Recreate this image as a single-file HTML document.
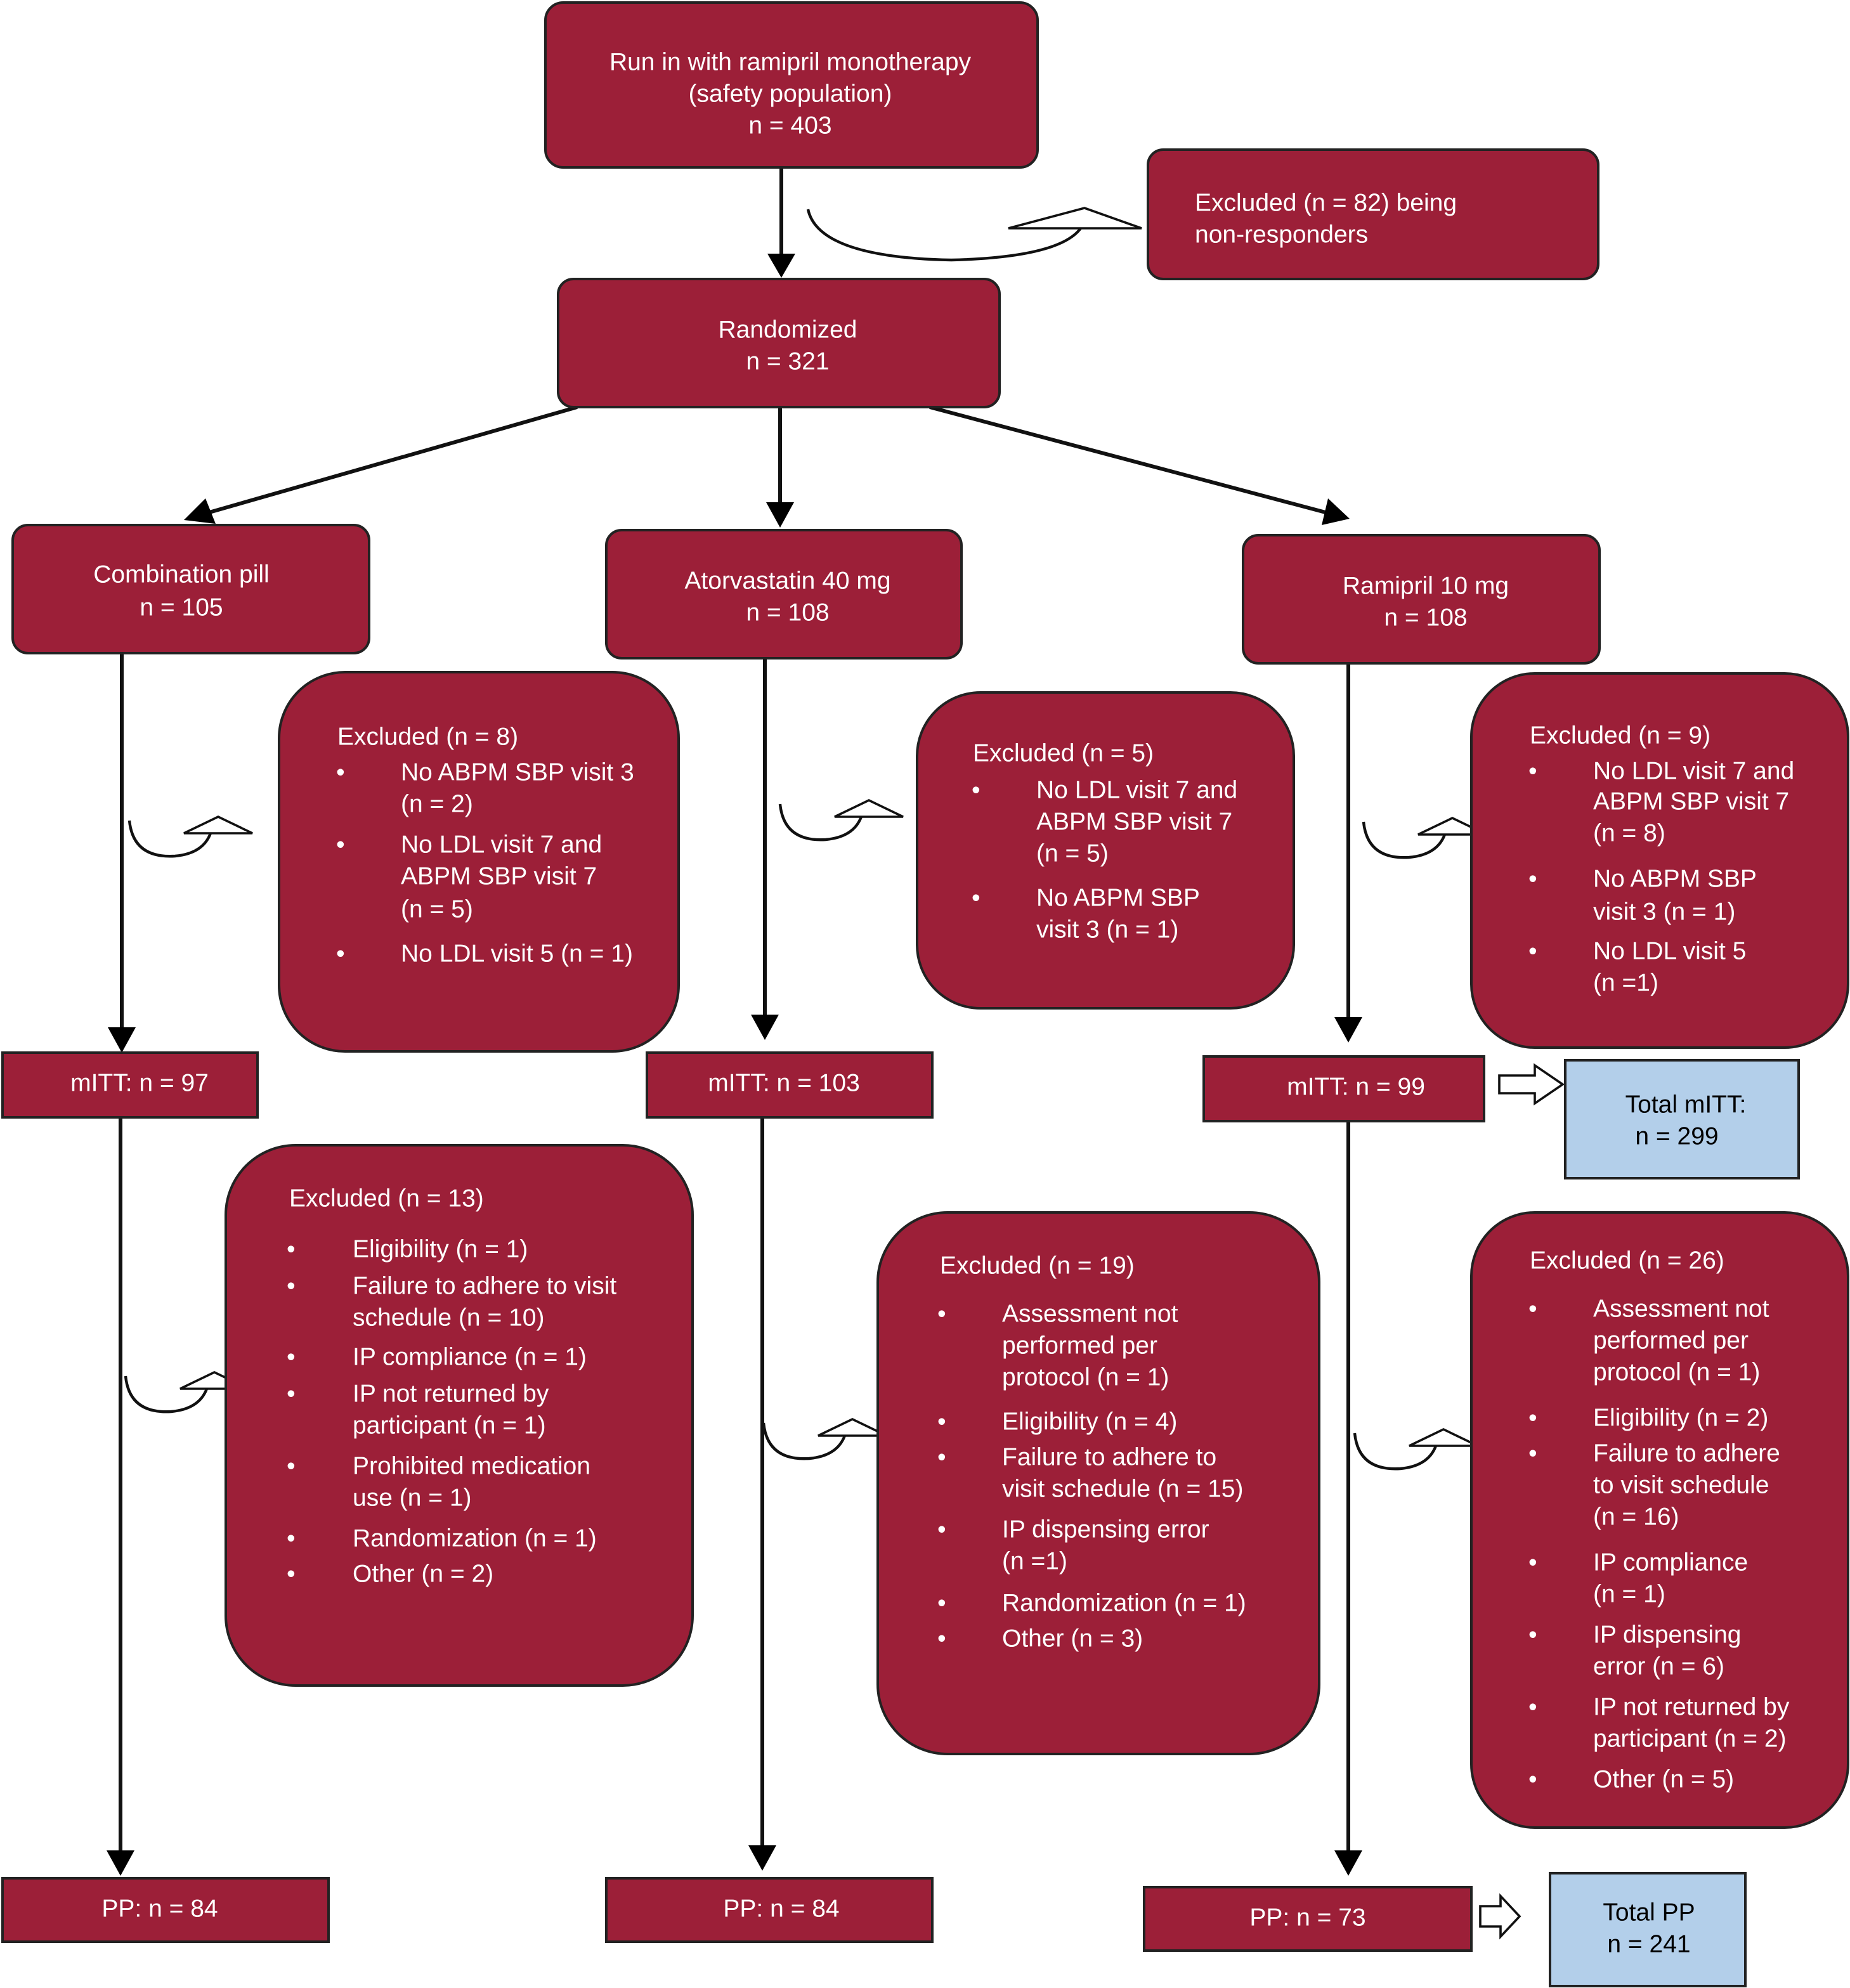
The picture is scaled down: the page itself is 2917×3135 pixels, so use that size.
<!DOCTYPE html>
<html><head><meta charset="utf-8"><style>
html,body{margin:0;padding:0;background:#fff}
svg{display:block}
text{font-family:"Liberation Sans",Arial,sans-serif;font-size:19.5px;fill:#fff;dominant-baseline:middle}
.c{text-anchor:middle}
.k{fill:#000}
.b{fill:#9c1f38;stroke:#222;stroke-width:2}
.bl{fill:#b3cfea;stroke:#222;stroke-width:2}
.ln{stroke:#111;stroke-width:3;fill:none}
.cu{stroke:#111;stroke-width:2.2;fill:none}
.tr{fill:#fff;stroke:#111;stroke-width:1.8}
</style></head><body>
<svg width="2917" height="3135" viewBox="0 0 1458.5 1567.5" xmlns="http://www.w3.org/2000/svg">
<defs>
<marker id="ah" markerWidth="8" markerHeight="8" refX="7" refY="4" orient="auto" markerUnits="userSpaceOnUse" viewBox="0 0 8 8">
</marker>
<g id="curl"><path class="cu" d="M0,0 Q3,30 36,28 Q58,26 64,10"/><polygon class="tr" points="43,10 70,-3 97,10"/></g>
</defs>

<!-- connectors -->
<line class="ln" x1="616" y1="132" x2="616" y2="202"/><polygon points="605,200 627,200 616,219"/>
<path class="cu" d="M637,165 Q645,203 750,205 Q835,203 852,180"/><polygon class="tr" points="795,180 855,164 900,180"/>

<line class="ln" x1="455" y1="321" x2="165" y2="404"/><polygon points="145,410 162,393 170,413"/>
<line class="ln" x1="615" y1="321" x2="615" y2="398"/><polygon points="604,396 626,396 615,416"/>
<line class="ln" x1="733" y1="321" x2="1045" y2="404"/><polygon points="1064,409 1042,414 1047,393"/>

<line class="ln" x1="96" y1="515" x2="96" y2="812"/><polygon points="85,810 107,810 96,830"/>
<line class="ln" x1="603" y1="520" x2="603" y2="802"/><polygon points="592,800 614,800 603,820"/>
<line class="ln" x1="1063" y1="523" x2="1063" y2="804"/><polygon points="1052,802 1074,802 1063,822"/>
<line class="ln" x1="95" y1="881" x2="95" y2="1461"/><polygon points="84,1459 106,1459 95,1479"/>
<line class="ln" x1="601" y1="881" x2="601" y2="1457"/><polygon points="590,1455 612,1455 601,1475"/>
<line class="ln" x1="1063" y1="884" x2="1063" y2="1461"/><polygon points="1052,1459 1074,1459 1063,1479"/>

<use href="#curl" transform="translate(102,647)"/>
<use href="#curl" transform="translate(615,634)"/>
<use href="#curl" transform="translate(1075,648)"/>
<use href="#curl" transform="translate(99,1085)"/>
<use href="#curl" transform="translate(602,1122)"/>
<use href="#curl" transform="translate(1068,1130)"/>

<!-- block arrows -->
<polygon class="tr" points="1182,848 1210,848 1210,840 1232,855 1210,870 1210,862 1182,862"/>
<polygon class="tr" points="1167,1503 1183,1503 1183,1495 1198,1511 1183,1527 1183,1519 1167,1519"/>

<!-- boxes -->
<rect class="b" x="430" y="2" width="388" height="130" rx="14"/>
<text class="c" x="623" y="50">Run in with ramipril monotherapy</text>
<text class="c" x="623" y="75">(safety population)</text>
<text class="c" x="623" y="100">n = 403</text>

<rect class="b" x="905" y="118" width="355" height="102" rx="12"/>
<text x="942" y="161">Excluded (n = 82) being</text>
<text x="942" y="186">non-responders</text>

<rect class="b" x="440" y="220" width="348" height="101" rx="12"/>
<text class="c" x="621" y="261">Randomized</text>
<text class="c" x="621" y="286">n = 321</text>

<rect class="b" x="10" y="414" width="281" height="101" rx="12"/>
<text class="c" x="143" y="454">Combination pill</text>
<text class="c" x="143" y="480">n = 105</text>

<rect class="b" x="478" y="418" width="280" height="101" rx="12"/>
<text class="c" x="621" y="459">Atorvastatin 40 mg</text>
<text class="c" x="621" y="484">n = 108</text>

<rect class="b" x="980" y="422" width="281" height="101" rx="12"/>
<text class="c" x="1124" y="463">Ramipril 10 mg</text>
<text class="c" x="1124" y="488">n = 108</text>

<rect class="b" x="220" y="530" width="315" height="299" rx="52"/>
<text x="266" y="582">Excluded (n = 8)</text>
<text x="265" y="610">•</text><text x="316" y="610">No ABPM SBP visit 3</text>
<text x="316" y="635">(n = 2)</text>
<text x="265" y="667">•</text><text x="316" y="667">No LDL visit 7 and</text>
<text x="316" y="692">ABPM SBP visit 7</text>
<text x="316" y="718">(n = 5)</text>
<text x="265" y="753">•</text><text x="316" y="753">No LDL visit 5 (n = 1)</text>

<rect class="b" x="723" y="546" width="297" height="249" rx="50"/>
<text x="767" y="595">Excluded (n = 5)</text>
<text x="766" y="624">•</text><text x="817" y="624">No LDL visit 7 and</text>
<text x="817" y="649">ABPM SBP visit 7</text>
<text x="817" y="674">(n = 5)</text>
<text x="766" y="709">•</text><text x="817" y="709">No ABPM SBP</text>
<text x="817" y="734">visit 3 (n = 1)</text>

<rect class="b" x="1160" y="531" width="297" height="295" rx="50"/>
<text x="1206" y="581">Excluded (n = 9)</text>
<text x="1205" y="609">•</text><text x="1256" y="609">No LDL visit 7 and</text>
<text x="1256" y="633">ABPM SBP visit 7</text>
<text x="1256" y="658">(n = 8)</text>
<text x="1205" y="694">•</text><text x="1256" y="694">No ABPM SBP</text>
<text x="1256" y="720">visit 3 (n = 1)</text>
<text x="1205" y="751">•</text><text x="1256" y="751">No LDL visit 5</text>
<text x="1256" y="776">(n =1)</text>

<rect class="b" x="2" y="830" width="201" height="51"/>
<text class="c" x="110" y="855">mITT: n = 97</text>
<rect class="b" x="510" y="830" width="225" height="51"/>
<text class="c" x="618" y="855">mITT: n = 103</text>
<rect class="b" x="949" y="833" width="221" height="51"/>
<text class="c" x="1069" y="858">mITT: n = 99</text>
<rect class="bl" x="1234" y="836" width="184" height="93"/>
<text class="c k" x="1329" y="872">Total mITT:</text>
<text class="c k" x="1322" y="897">n = 299</text>

<rect class="b" x="178" y="903" width="368" height="426" rx="55"/>
<text x="228" y="946">Excluded (n = 13)</text>
<text x="226" y="986">•</text><text x="278" y="986">Eligibility (n = 1)</text>
<text x="226" y="1015">•</text><text x="278" y="1015">Failure to adhere to visit</text>
<text x="278" y="1040">schedule (n = 10)</text>
<text x="226" y="1071">•</text><text x="278" y="1071">IP compliance (n = 1)</text>
<text x="226" y="1100">•</text><text x="278" y="1100">IP not returned by</text>
<text x="278" y="1125">participant (n = 1)</text>
<text x="226" y="1157">•</text><text x="278" y="1157">Prohibited medication</text>
<text x="278" y="1182">use (n = 1)</text>
<text x="226" y="1214">•</text><text x="278" y="1214">Randomization (n = 1)</text>
<text x="226" y="1242">•</text><text x="278" y="1242">Other (n = 2)</text>

<rect class="b" x="692" y="956" width="348" height="427" rx="55"/>
<text x="741" y="999">Excluded (n = 19)</text>
<text x="739" y="1037">•</text><text x="790" y="1037">Assessment not</text>
<text x="790" y="1062">performed per</text>
<text x="790" y="1087">protocol (n = 1)</text>
<text x="739" y="1122">•</text><text x="790" y="1122">Eligibility (n = 4)</text>
<text x="739" y="1150">•</text><text x="790" y="1150">Failure to adhere to</text>
<text x="790" y="1175">visit schedule (n = 15)</text>
<text x="739" y="1207">•</text><text x="790" y="1207">IP dispensing error</text>
<text x="790" y="1232">(n =1)</text>
<text x="739" y="1265">•</text><text x="790" y="1265">Randomization (n = 1)</text>
<text x="739" y="1293">•</text><text x="790" y="1293">Other (n = 3)</text>

<rect class="b" x="1160" y="956" width="297" height="485" rx="50"/>
<text x="1206" y="995">Excluded (n = 26)</text>
<text x="1205" y="1033">•</text><text x="1256" y="1033">Assessment not</text>
<text x="1256" y="1058">performed per</text>
<text x="1256" y="1083">protocol (n = 1)</text>
<text x="1205" y="1119">•</text><text x="1256" y="1119">Eligibility (n = 2)</text>
<text x="1205" y="1147">•</text><text x="1256" y="1147">Failure to adhere</text>
<text x="1256" y="1172">to visit schedule</text>
<text x="1256" y="1197">(n = 16)</text>
<text x="1205" y="1233">•</text><text x="1256" y="1233">IP compliance</text>
<text x="1256" y="1258">(n = 1)</text>
<text x="1205" y="1290">•</text><text x="1256" y="1290">IP dispensing</text>
<text x="1256" y="1315">error (n = 6)</text>
<text x="1205" y="1347">•</text><text x="1256" y="1347">IP not returned by</text>
<text x="1256" y="1372">participant (n = 2)</text>
<text x="1205" y="1404">•</text><text x="1256" y="1404">Other (n = 5)</text>

<rect class="b" x="2" y="1481" width="257" height="50"/>
<text class="c" x="126" y="1506">PP: n = 84</text>
<rect class="b" x="478" y="1481" width="257" height="50"/>
<text class="c" x="616" y="1506">PP: n = 84</text>
<rect class="b" x="902" y="1488" width="258" height="50"/>
<text class="c" x="1031" y="1513">PP: n = 73</text>
<rect class="bl" x="1222" y="1477" width="154" height="89"/>
<text class="c k" x="1300" y="1509">Total PP</text>
<text class="c k" x="1300" y="1534">n = 241</text>
</svg>
</body></html>
